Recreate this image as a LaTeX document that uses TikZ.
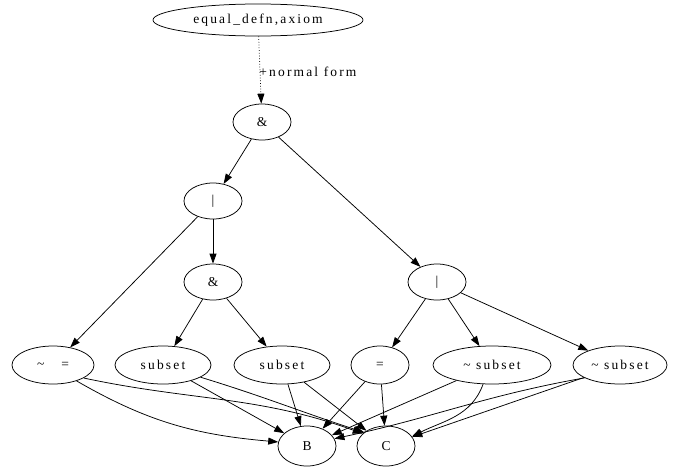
\documentclass[tikz,border=0pt]{standalone}
\usepackage{fontspec}
\setmainfont{Liberation Serif}[LetterSpace=16]
\usetikzlibrary{shapes.geometric,arrows.meta}
\begin{document}
\begin{tikzpicture}[x=1pt,y=-1pt,
  nd/.style={draw,ellipse,inner sep=0pt,minimum height=36pt,minimum width=58pt,font=\fontsize{13.5}{15}\selectfont,line width=0.75pt},
  ed/.style={draw,line width=0.75pt,-{Triangle[length=10pt,width=7pt]}},
  lbl/.style={font=\fontsize{13.5}{15}\selectfont,inner sep=0pt}]
\useasboundingbox (0,0) rectangle (684,469);
\node[nd,minimum width=210pt,minimum height=32pt] (top) at (258,20) {equal\_defn,axiom};
\node[nd] (and1) at (262,122) {\&};
\node[nd] (orL) at (213,201) {\textbar};
\node[nd] (and2) at (213,282) {\&};
\node[nd] (orR) at (437,282) {\textbar};
\node[nd,minimum width=82pt,minimum height=38pt] (neq) at (53,365) {\textasciitilde\hspace{17pt}=};
\node[nd,minimum width=96pt,minimum height=38pt] (sb1) at (163,365) {subset};
\node[nd,minimum width=96pt,minimum height=38pt] (sb2) at (282,365) {subset};
\node[nd,minimum height=38pt] (eq) at (380,365) {=};
\node[nd,minimum width=118pt,minimum height=38pt] (ns1) at (492,365) {\textasciitilde{} subset};
\node[nd,minimum width=94pt,minimum height=38pt] (ns2) at (620,365) {\textasciitilde{} subset};
\node[nd,minimum height=40pt] (B) at (307,446) {B};
\node[nd,minimum height=40pt] (C) at (386,446) {C};

\draw[ed,dotted] (top) -- (and1) node[lbl,pos=0.53,anchor=west,xshift=-1pt] (lab) {+normal form};
\draw[ed] (and1) -- (orL);
\draw[ed] (and1) -- (orR);
\draw[ed] (orL) -- (neq);
\draw[ed] (orL) -- (and2);
\draw[ed] (and2) -- (sb1);
\draw[ed] (and2) -- (sb2);
\draw[ed] (orR) -- (eq);
\draw[ed] (orR) -- (ns1);
\draw[ed] (orR) -- (ns2);

\draw[ed] (neq.-34) to[out=-30,in=175] (B.172);
\draw[ed] (neq.-23) to[out=-12,in=160] (C.152);
\draw[ed] (sb1) -- (B);
\draw[ed] (sb1.-18) to[out=-17,in=162] (C.148);
\draw[ed] (sb2) -- (B);
\draw[ed] (sb2) -- (C);
\draw[ed] (eq) -- (B);
\draw[ed] (eq) -- (C);
\draw[ed] (ns1) -- (B);
\draw[ed] (ns1.-115) to[out=-110,in=27] (C.20);
\draw[ed] (ns2.-160) to[out=-170,in=12] (B.15);
\draw[ed] (ns2) -- (C);
\end{tikzpicture}
\end{document}
